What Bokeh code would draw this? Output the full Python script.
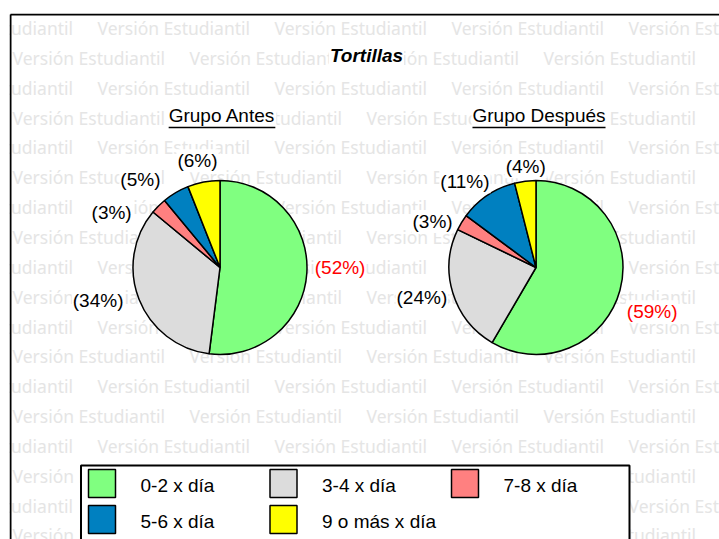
import math
from bokeh.plotting import figure
from bokeh.models import Range1d
from bokeh.core.properties import value
from bokeh.embed import file_html
from bokeh.resources import INLINE

# ---------------- data ----------------
title_text = "Tortillas"
group_names = ["Grupo Antes", "Grupo Después"]
categories = ["0-2 x día", "3-4 x día", "7-8 x día", "5-6 x día", "9 o más x día"]
colors = ["#80FF80", "#DCDCDC", "#FF8080", "#0080C0", "#FFFF00"]
antes_pct = [52, 34, 3, 5, 6]
despues_pct = [59, 24, 3, 11, 4]
watermark_text = "Versión Estudiantil"

# ---------------- layout (picture px, y downwards) ----------------
W, H = 719, 539


def Y(sy):
    return H - sy


FONT = "Liberation Sans"
FS = 19
CW = {"(": .333, ")": .333, "%": .889, " ": .278, "G": .778, "r": .333, "u": .556,
      "p": .556, "o": .556, "A": .667, "n": .556, "t": .278, "e": .556, "s": .5,
      "D": .722, "é": .556}


def text_w(t, size=FS):
    return sum(CW.get(c, .556) for c in t) * size


pie_centers = [(219.5, 267.0), (535.5, 267.0)]
pie_r = 87.0
group_title_x = [221.5, 538.5]
group_title_y = 115
underline_y = 127
title_x, title_y = 366, 55
label_nudges = [
    [(0, -7), (-10, -5), (-27, 19), (-21, 2), (-1, -4)],
    [(0, 17), (1, 0), (-5, 8), (-4, 1), (4, 3)],
]

p = figure(width=W, height=H, output_backend="svg", toolbar_location=None,
           x_axis_type=None, y_axis_type=None,
           x_range=Range1d(9, W), y_range=Range1d(0, Y(13)),
           min_border_left=9, min_border_top=13, min_border_right=0, min_border_bottom=0)
p.grid.visible = False
p.outline_line_color = None
p.background_fill_color = "white"
p.border_fill_color = "white"

# ---------------- watermark ----------------
wx, wy = [], []
for k in range(18):
    cy = 27.5 + 29.85 * k
    start = -80 if k % 2 == 0 else 12
    for j in range(5):
        wx.append(start + 177 * j)
        wy.append(Y(cy))
p.text(x=wx, y=wy, text=[watermark_text] * len(wx), text_font=value("Noto Sans"),
       text_font_size="17.5px", text_color="#e5e5e5", text_align="left",
       text_baseline="middle")

# ---------------- border ----------------
p.segment(x0=[10, 10], y0=[Y(14), Y(14)], x1=[10, 740], y1=[Y(580), Y(14)],
          line_color="black", line_width=2)

# ---------------- title ----------------
p.text(x=[title_x], y=[Y(title_y)], text=[title_text], text_font=value(FONT),
       text_font_size=f"{FS}px", text_font_style="bold italic", text_color="black",
       text_align="center", text_baseline="middle",
       background_fill_color="white", padding=1)

# ---------------- pies ----------------
for gi, (pct, (cx, cy)) in enumerate(zip([antes_pct, despues_pct], pie_centers)):
    total = float(sum(pct))
    cum = 0.0
    starts, ends, lx, ly, ltxt, lcol = [], [], [], [], [], []
    for i, v in enumerate(pct):
        a0 = cum / total
        a1 = (cum + v) / total
        starts.append(math.pi / 2 - 2 * math.pi * a0)
        ends.append(math.pi / 2 - 2 * math.pi * a1)
        mid = 2 * math.pi * (a0 + a1) / 2
        s, c = math.sin(mid), math.cos(mid)
        t = f"({v}%)"
        w = text_w(t)
        nx, ny = label_nudges[gi][i]
        lx.append(cx + (pie_r + 8) * s + s * w / 2 + nx)
        ly.append(Y(cy - (pie_r + 8) * c - c * FS / 2 + ny))
        ltxt.append(t)
        lcol.append("#FF0000" if v == max(pct) else "black")
        cum += v
    p.wedge(x=[cx] * len(pct), y=[Y(cy)] * len(pct), radius=pie_r,
            start_angle=starts, end_angle=ends, direction="clock",
            fill_color=colors, line_color="black", line_width=1.5)
    p.text(x=lx, y=ly, text=ltxt, text_color=lcol, text_font=value(FONT),
           text_font_size=f"{FS}px", text_align="center", text_baseline="middle",
           background_fill_color="white", padding=1)
    # group title
    gx = group_title_x[gi]
    p.text(x=[gx], y=[Y(group_title_y)], text=[group_names[gi]], text_font=value(FONT),
           text_font_size=f"{FS}px", text_color="black", text_align="center",
           text_baseline="middle", background_fill_color="white", padding=1)
    gw = text_w(group_names[gi])
    p.segment(x0=[gx - gw / 2], y0=[Y(underline_y)], x1=[gx + gw / 2], y1=[Y(underline_y)],
              line_color="black", line_width=1.5)

# ---------------- legend ----------------
p.quad(left=[80.5], right=[629], top=[Y(465)], bottom=[Y(600)],
       fill_color="white", line_color="black", line_width=2)
sl, sr, st, sb, tx, ty = [], [], [], [], [], []
for i, cat in enumerate(categories):
    row, col = divmod(i, 3)
    left = 88 + 181.5 * col
    top = 469 + 36 * row
    sl.append(left)
    sr.append(left + 27)
    st.append(Y(top))
    sb.append(Y(top + 28))
    tx.append(left + 52)
    ty.append(Y(top + 16))
p.quad(left=sl, right=sr, top=st, bottom=sb, fill_color=colors,
       line_color="black", line_width=1.5)
p.text(x=tx, y=ty, text=categories, text_font=value(FONT), text_font_size=f"{FS}px",
       text_color="black", text_align="left", text_baseline="middle")

open("out.html", "w").write(file_html(p, INLINE))
